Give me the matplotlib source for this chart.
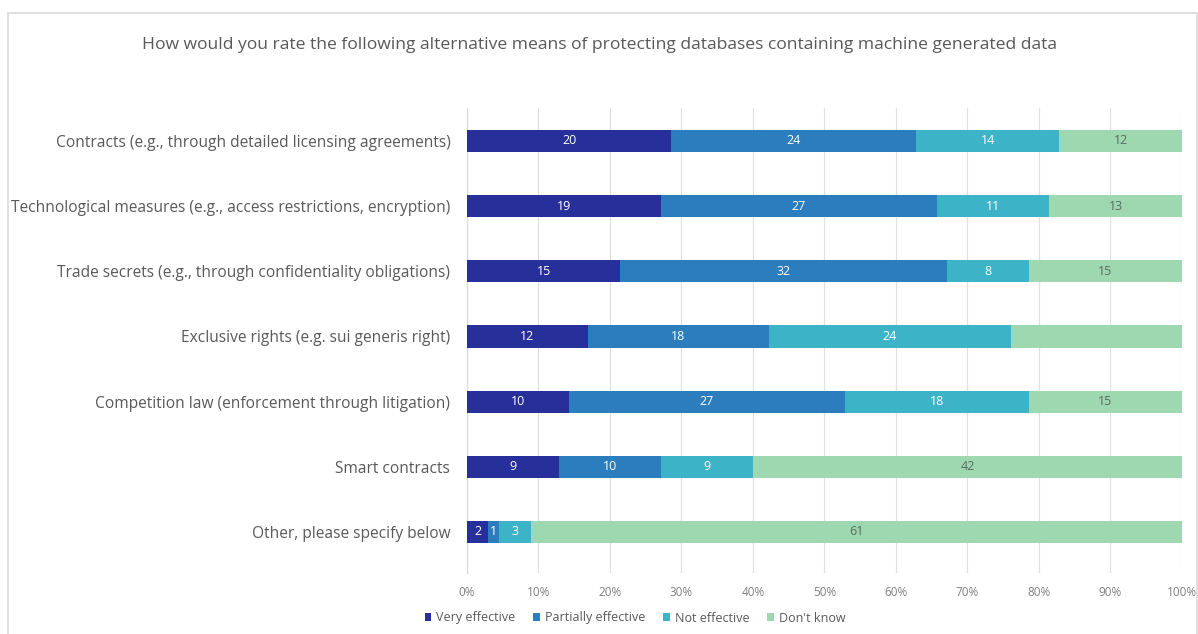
import matplotlib.pyplot as plt
import numpy as np
from matplotlib.patches import Rectangle

plt.rcParams["font.family"] = ["Open Sans", "DejaVu Sans"]

categories = [
    "Contracts (e.g., through detailed licensing agreements)",
    "Technological measures (e.g., access restrictions, encryption)",
    "Trade secrets (e.g., through confidentiality obligations)",
    "Exclusive rights (e.g. sui generis right)",
    "Competition law (enforcement through litigation)",
    "Smart contracts",
    "Other, please specify below",
]
series_names = ["Very effective", "Partially effective", "Not effective", "Don't know"]
very_effective = [20, 19, 15, 12, 10, 9, 2]
partially_effective = [24, 27, 32, 18, 27, 10, 1]
not_effective = [14, 11, 8, 24, 18, 9, 3]
dont_know = [12, 13, 15, 17, 15, 42, 61]
# the "Don't know" value of the exclusive rights row has no label
show_label = [
    [True] * 7,
    [True] * 7,
    [True] * 7,
    [True, True, True, False, True, True, True],
]

colors = ["#27309a", "#2c7dbd", "#3db3c8", "#9dd8b0"]
label_colors = ["white", "white", "white", "#5a6a60"]

counts = np.array([very_effective, partially_effective, not_effective, dont_know], dtype=float)
shares = counts / counts.sum(axis=0)

fig = plt.figure(figsize=(11.98, 6.34), dpi=100)
fig.patches.append(Rectangle((8 / 1198, -0.01), 1189 / 1198, (634 - 13) / 634 + 0.01,
                             transform=fig.transFigure, fill=False,
                             edgecolor="#d9d9d9", linewidth=1.2))
ax = fig.add_axes([0.3898, 0.0962, 0.5968, 0.7335])

y = np.arange(len(categories))
left = np.zeros(len(categories))
for i, name in enumerate(series_names):
    ax.barh(y, shares[i], left=left, height=0.34, color=colors[i], label=name, zorder=3)
    for j in range(len(categories)):
        if show_label[i][j]:
            ax.text(left[j] + shares[i][j] / 2, y[j], f"{int(counts[i][j])}",
                    ha="center", va="center", fontsize=9, color=label_colors[i], zorder=4)
    left += shares[i]

ax.set_xlim(0, 1)
ax.set_ylim(6.63, -0.506)
ax.set_xticks(np.arange(0, 1.01, 0.1))
ax.set_xticklabels([f"{k}%" for k in range(0, 101, 10)], fontsize=8.5, color="#7f7f7f")
ax.set_yticks(y)
ax.set_yticklabels(categories, fontsize=11.2, color="#595959")
ax.tick_params(axis="y", length=0, pad=12)
ax.tick_params(axis="x", length=0, pad=9)
ax.grid(axis="x", color="#e0e0e0", linewidth=0.9, zorder=0)
for side in ["top", "right", "bottom"]:
    ax.spines[side].set_visible(False)
ax.spines["left"].set_color("#d9d9d9")

fig.text(0.5, (634 - 45) / 634, "How would you rate the following alternative means of protecting "
         "databases containing machine generated data",
         ha="center", va="center", fontsize=12.6, color="#595959")

fig.legend(loc="center", bbox_to_anchor=(0.530, (634 - 618) / 634), ncol=4, frameon=False,
           fontsize=9, handlelength=0.55, handleheight=0.55, handletextpad=0.4,
           columnspacing=1.4, labelcolor="#595959")

fig.savefig("out.png", dpi=100)
